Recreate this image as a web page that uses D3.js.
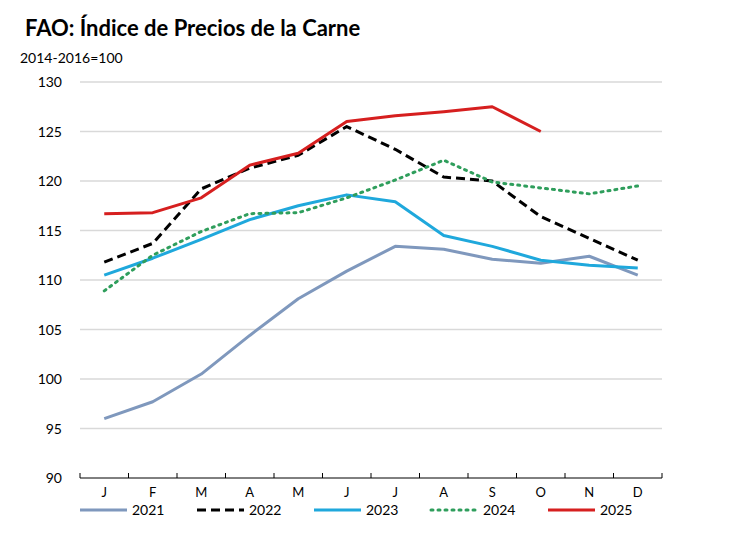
<!DOCTYPE html>
<html>
<head>
<meta charset="utf-8">
<script src="https://cdn.jsdelivr.net/npm/d3@7"></script>
<style>
  body { margin: 0; background: #fff; }
  svg text { font-family: Lato, "Open Sans", "Liberation Sans", sans-serif; fill: #000; }
</style>
</head>
<body>
<div id="chart"></div>
<script>
const months = ["J", "F", "M", "A", "M", "J", "J", "A", "S", "O", "N", "D"];
const yTicks = [90, 95, 100, 105, 110, 115, 120, 125, 130];

const v2021 = [96.0, 97.7, 100.5, 104.4, 108.1, 110.9, 113.4, 113.1, 112.1, 111.7, 112.4, 110.5];
const v2022 = [111.8, 113.7, 119.2, 121.3, 122.6, 125.5, 123.2, 120.4, 120.0, 116.4, 114.2, 112.0];
const v2023 = [110.5, 112.2, 114.1, 116.1, 117.5, 118.6, 117.9, 114.5, 113.4, 112.0, 111.5, 111.2];
const v2024 = [108.9, 112.5, 114.9, 116.7, 116.8, 118.3, 120.1, 122.1, 119.9, 119.3, 118.7, 119.5];
const v2025 = [116.7, 116.8, 118.3, 121.6, 122.8, 126.0, 126.6, 127.0, 127.5, 125.0];

const series = [
  { name: "2021", values: v2021, color: "#7f98bd", dash: null },
  { name: "2022", values: v2022, color: "#000000", dash: "9,5" },
  { name: "2023", values: v2023, color: "#1fa8dc", dash: null },
  { name: "2024", values: v2024, color: "#2f9e5c", dash: "2,5" },
  { name: "2025", values: v2025, color: "#d61f1f", dash: null }
];

const W = 747, H = 556;
const plotL = 80, plotR = 662, plotT = 82, plotB = 478;

const svg = d3.select("#chart").append("svg")
  .attr("width", W)
  .attr("height", H);

svg.append("text")
  .attr("x", 25).attr("y", 36)
  .style("font-size", "22px").style("font-weight", "bold")
  .text("FAO: Índice de Precios de la Carne");

svg.append("text")
  .attr("x", 20).attr("y", 63)
  .style("font-size", "14px")
  .text("2014-2016=100");

const x = d3.scaleBand()
  .domain(d3.range(12))
  .range([plotL, plotR]);

const y = d3.scaleLinear()
  .domain([90, 130])
  .range([plotB, plotT]);

// gridlines
svg.append("g")
  .selectAll("line")
  .data(yTicks.filter(d => d > 90))
  .join("line")
    .attr("x1", plotL).attr("x2", plotR)
    .attr("y1", d => y(d)).attr("y2", d => y(d))
    .attr("stroke", "#d9d9d9")
    .attr("stroke-width", 1.3);

// y labels
svg.append("g")
  .selectAll("text")
  .data(yTicks)
  .join("text")
    .attr("x", 62).attr("y", d => y(d) + 5)
    .attr("text-anchor", "end")
    .style("font-size", "14px")
    .text(d => d);

// x axis
const xAxis = svg.append("g")
  .attr("transform", `translate(0, ${plotB})`);
xAxis.append("line")
  .attr("x1", plotL).attr("x2", plotR)
  .attr("stroke", "#000").attr("stroke-width", 1);
xAxis.selectAll("line.tick")
  .data(d3.range(13))
  .join("line")
    .attr("class", "tick")
    .attr("x1", i => plotL + i * x.bandwidth())
    .attr("x2", i => plotL + i * x.bandwidth())
    .attr("y1", 0).attr("y2", -5)
    .attr("stroke", "#000");
xAxis.selectAll("text")
  .data(months)
  .join("text")
    .attr("x", (d, i) => x(i) + x.bandwidth() / 2)
    .attr("y", 19)
    .attr("text-anchor", "middle")
    .style("font-size", "13px")
    .text(d => d);

const line = d3.line()
  .x((d, i) => x(i) + x.bandwidth() / 2)
  .y(d => y(d));

svg.append("g")
  .selectAll("path")
  .data(series)
  .join("path")
    .attr("d", d => line(d.values))
    .attr("fill", "none")
    .attr("stroke", d => d.color)
    .attr("stroke-width", 3)
    .attr("stroke-dasharray", d => d.dash)
    .attr("stroke-linecap", d => d.name === "2024" ? "round" : "butt")
    .attr("stroke-linejoin", "round");

// legend
const lg = svg.append("g")
  .selectAll("g")
  .data(series)
  .join("g")
    .attr("transform", (d, i) => `translate(${80 + i * 117}, 510)`);
lg.append("line")
  .attr("x1", 0).attr("x2", 47)
  .attr("stroke", d => d.color)
  .attr("stroke-width", 3)
  .attr("stroke-dasharray", d => d.dash)
  .attr("stroke-linecap", d => d.name === "2024" ? "round" : "butt");
lg.append("text")
  .attr("x", 52).attr("y", 5)
  .style("font-size", "14px")
  .text(d => d.name);
</script>
</body>
</html>
